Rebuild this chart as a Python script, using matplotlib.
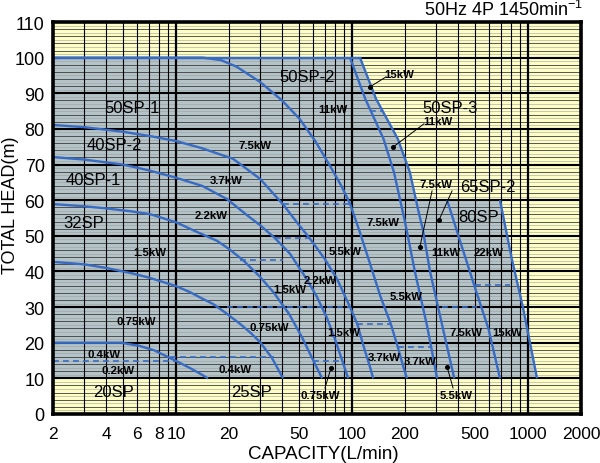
import matplotlib
matplotlib.use('Agg')
import math
import matplotlib.pyplot as plt
from matplotlib.ticker import NullLocator, FixedLocator, FixedFormatter

plt.rcParams['font.family'] = ['Liberation Sans', 'DejaVu Sans']
plt.rcParams['mathtext.fontset'] = 'custom'
plt.rcParams['mathtext.rm'] = 'Liberation Sans'

# ---------------- data (capacity L/min, head m) ----------------
c1_q = [2, 4.9, 6.2, 7.5, 8.9, 10, 12, 13.5, 15.2]
c1_h = [20, 20, 19.1, 17.9, 16.1, 14.9, 12.9, 11.5, 10]

c2_q = [2, 3, 4, 5.7, 7.1, 10, 12, 14.2, 16.2, 19, 23.1, 26.5, 30, 35, 40.6]
c2_h = [42.7, 42, 41, 39.4, 38.2, 35.9, 34.2, 32.3, 30.9, 28.5, 25.3, 22.8, 20.2, 15.8, 10]

c3_q = [2, 3, 4, 5.5, 7.1, 10, 13, 17.1, 20, 24, 30, 36, 44, 52, 60, 67.6]
c3_h = [58.9, 58.3, 57.7, 56.9, 56.1, 53.8, 51.2, 48.6, 46.3, 43.2, 38.5, 34, 28, 21.5, 15.2, 10]

c4_q = [2, 3, 5, 7.1, 10, 14.1, 19.5, 25, 30, 36.4, 44.4, 55, 63, 72, 80, 88, 95]
c4_h = [72.1, 71.4, 70, 68.3, 66.3, 64, 60.3, 56, 53, 49.4, 45, 38, 33, 27, 21, 15, 10]

c5_q = [2, 3, 5, 7.1, 10, 14, 21.1, 30, 40.6, 50, 57.3, 70, 82.2, 97.4, 107, 118, 126, 132]
c5_h = [81.1, 80.5, 79.2, 78, 76.6, 74.6, 71.6, 66, 58.8, 53, 49.4, 43.5, 37.9, 30, 25.3, 18, 13.5, 10]

c6_q = [2, 14.2, 18, 22, 30, 40, 50.4, 62, 75, 87, 97.4, 110, 125, 145, 166, 182, 195, 205]
c6_h = [100, 100, 99.3, 97.5, 93.2, 88, 82.8, 76.5, 69.6, 64, 59, 51.5, 43, 33, 25.3, 18.8, 13.5, 10]

l1_q = [97.4, 119, 151, 173, 200, 228, 267, 285, 304]
l1_h = [100, 88.4, 77.2, 67.9, 53.9, 39.8, 24.7, 17.5, 10]

l2_q = [111, 137, 182, 213, 237, 252, 278, 326, 381]
l2_h = [100, 88.4, 77.2, 67.9, 57.5, 52, 39.8, 24.7, 10]

m_q = [347, 425, 503, 596, 693]
m_h = [60, 46.3, 35, 23.9, 10]

r_q = [693, 809, 940, 1125]
r_h = [60, 43.5, 29.5, 10]

# motor-output boundaries (dashed): head, capacity from, capacity to
dash_h = [15, 16, 30, 43.2, 49.4, 59, 15, 25.3, 18.8, 85, 30, 36.2]
dash_q0 = [2, 9.3, 19.5, 23, 36.4, 40.6, 60, 107, 182, 127, 326, 500]
dash_q1 = [10, 36, 97.4, 40.6, 57.3, 97.4, 84, 166, 285, 148, 510, 790]

model_names = ['50SP-1', '40SP-2', '40SP-1', '32SP', '50SP-2', '50SP-3', '65SP-2', '80SP', '20SP', '25SP']
model_q = [5.62, 4.44, 3.37, 3.0, 55.5, 360, 593, 526, 4.44, 26.7]
model_h = [85.9, 75.5, 65.9, 53.6, 94.8, 85.9, 63.7, 55.3, 6.2, 6.2]

kw_text = ['11kW', '7.5kW', '3.7kW', '2.2kW', '7.5kW', '1.5kW', '5.5kW', '11kW', '22kW',
           '2.2kW', '1.5kW', '5.5kW', '0.75kW', '0.75kW', '1.5kW', '7.5kW', '15kW',
           '3.7kW', '3.7kW', '0.4kW', '0.2kW', '0.4kW']
kw_q = [78, 28.1, 19.2, 15.8, 150, 7.1, 91.2, 342, 593,
        65.8, 44.4, 203, 5.93, 33.7, 90, 445, 760,
        152, 243, 3.9, 4.68, 21.6]
kw_h = [85.6, 75.5, 65.7, 55.8, 53.9, 45.5, 45.7, 45.5, 45.5,
        37.6, 35.1, 33.1, 26.1, 24.4, 23.0, 23.0, 23.0,
        16.0, 14.9, 16.8, 12.3, 12.6]

# labels with leader lines: text, text pos, leader start, dot
lead_text = ['15kW', '11kW', '7.5kW', '65SP-2', '0.75kW', '5.5kW']
lead_tq = [185, 308, 300, None, 65.8, 390]
lead_th = [95.4, 82.2, 64.5, None, 5.3, 5.3]
lead_q0 = [156, 256, 285, 370, 70.2, 375]
lead_h0 = [94.6, 81.4, 62.6, 62.6, 7.3, 7.3]
lead_q1 = [126.5, 171, 243, 312, 76, 347]
lead_h1 = [91.8, 74.9, 46.9, 54.4, 12.9, 13.2]

x_ticks = [2, 4, 6, 8, 10, 20, 50, 100, 200, 500, 1000, 2000]
y_ticks = list(range(0, 111, 10))
TOP_80SP = 60  # top head of the 65SP-2 / 80SP ranges

# ---------------- style ----------------
YELLOW = '#fdfdc6'
GRAY = '#b3c3c7'
BLUE = '#376bc4'

fig = plt.figure(figsize=(6.0, 4.64), dpi=100)
ax = fig.add_axes([53 / 600, 49 / 464, 528 / 600, 392 / 464])
ax.set_xscale('log')
ax.set_xlim(2, 2000)
ax.set_ylim(0, 110)
ax.set_facecolor(YELLOW)

# crossing of the 50SP-3 limit line with the 60 m top of the 65SP-2/80SP range
cross_q = None
for i in range(len(l2_h) - 1):
    if l2_h[i] >= TOP_80SP >= l2_h[i + 1]:
        t = (l2_h[i] - TOP_80SP) / (l2_h[i] - l2_h[i + 1])
        cross_q = 10 ** (math.log10(l2_q[i]) + t * (math.log10(l2_q[i + 1]) - math.log10(l2_q[i])))
        break
upper = [(q, h) for q, h in zip(l2_q, l2_h) if h > TOP_80SP]
env_q = [2, 2] + [p[0] for p in upper] + [cross_q] + r_q + [2]
env_h = [10, 100] + [p[1] for p in upper] + [TOP_80SP] + r_h + [10]
ax.fill(env_q, env_h, color=GRAY, lw=0, zorder=0.5)

# grid
for h in range(1, 110):
    if h % 10 == 0:
        ax.axhline(h, color='black', lw=1.5, zorder=1)
    elif h % 2 == 0:
        ax.axhline(h, color='#3c3c3c', lw=0.6, zorder=1)
    else:
        ax.axhline(h, color='#a0a0a0', lw=0.4, zorder=0.9)
for dec in [1, 10, 100, 1000]:
    for m in range(1, 10):
        v = m * dec
        if 2 < v < 2000:
            ax.axvline(v, color='black', lw=1.6 if m == 1 else 0.8, zorder=1)

# curves
for q, h in [(c1_q, c1_h), (c2_q, c2_h), (c3_q, c3_h), (c4_q, c4_h), (c5_q, c5_h),
             (c6_q, c6_h), (l1_q, l1_h), (l2_q, l2_h), (m_q, m_h), (r_q, r_h)]:
    ax.plot(q, h, color=BLUE, lw=1.7, zorder=3, solid_capstyle='butt')
ax.plot([2, l2_q[0]], [100, 100], color=BLUE, lw=1.7, zorder=3)

for h, q0, q1 in zip(dash_h, dash_q0, dash_q1):
    ax.plot([q0, q1], [h, h], color=BLUE, lw=1.2, ls=(0, (3.5, 2.5)), zorder=3)

for s, q, h in zip(model_names, model_q, model_h):
    ax.text(q, h, s, ha='center', va='center', fontsize=12, zorder=5)
for s, q, h in zip(kw_text, kw_q, kw_h):
    ax.text(q, h, s, ha='center', va='center', fontsize=8.2, fontweight='bold', zorder=5)
for s, tq, th, q0, h0, q1, h1 in zip(lead_text, lead_tq, lead_th, lead_q0, lead_h0, lead_q1, lead_h1):
    if tq is not None:
        ax.text(tq, th, s, ha='center', va='center', fontsize=8.2, fontweight='bold', zorder=5)
    ax.plot([q0, q1], [h0, h1], color='black', lw=0.7, zorder=4)
    ax.plot([q1], [h1], 'o', ms=2.6, color='black', zorder=4)

# axes
ax.xaxis.set_major_locator(FixedLocator(x_ticks))
ax.xaxis.set_major_formatter(FixedFormatter([str(t) for t in x_ticks]))
ax.xaxis.set_minor_locator(NullLocator())
ax.set_yticks(y_ticks)
ax.tick_params(axis='x', length=0, labelsize=12.5, pad=9)
ax.tick_params(axis='y', direction='in', length=4, width=1.5, labelsize=13, pad=6)
for sp in ax.spines.values():
    sp.set_linewidth(2.6)
    sp.set_zorder(6)

fig.text(583 / 600, 1 - 10 / 464, '50Hz 4P 1450min$^{-1}$', ha='right', va='center', fontsize=13)
fig.text(11 / 600, 1 - 205 / 464, 'TOTAL HEAD(m)', rotation=90, ha='center', va='center', fontsize=13)
fig.text(323 / 600, 1 - 455 / 464, 'CAPACITY(L/min)', ha='center', va='center', fontsize=13.5)

fig.savefig('out.png', dpi=100)
